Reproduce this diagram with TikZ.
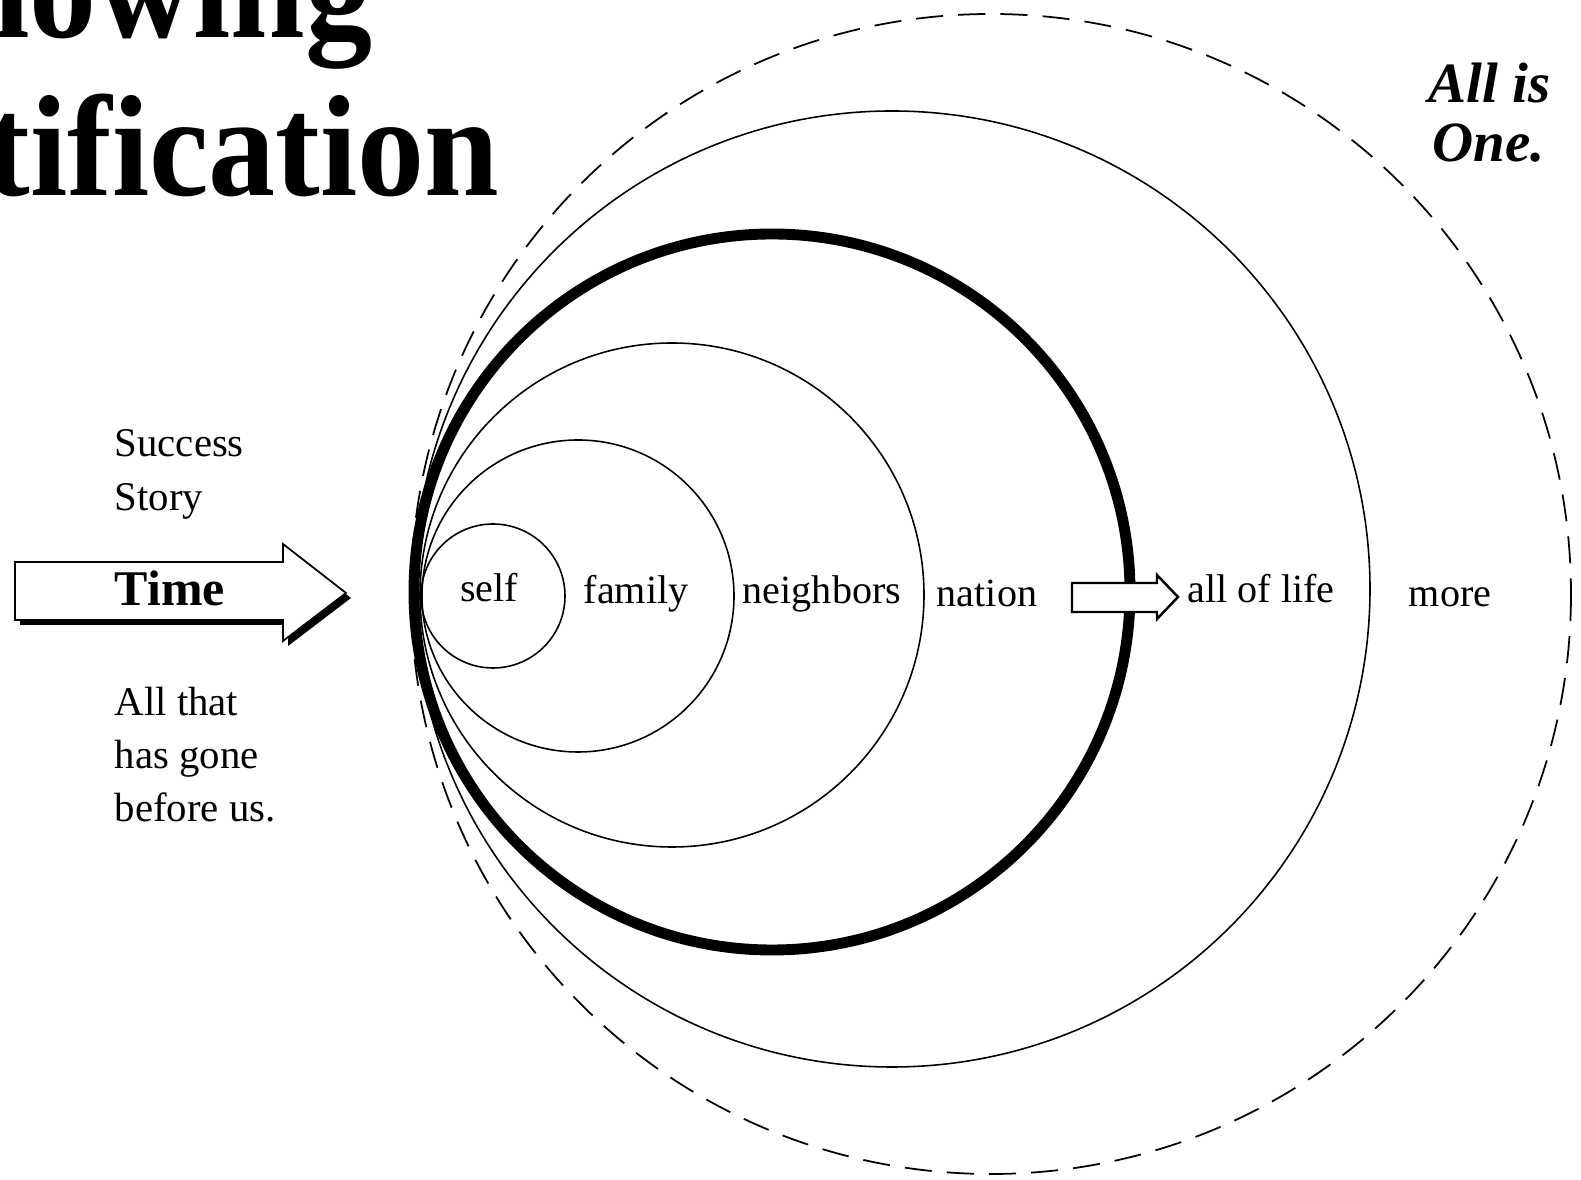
\documentclass[tikz,border=0pt]{standalone}
\usepackage{fontspec}
\setmainfont{Liberation Serif}
\begin{document}
\begin{tikzpicture}[x=0.01cm,y=-0.01cm,
  ring/.style={line width=0.45pt},
  bigring/.style={line width=3.1pt},
  dashring/.style={line width=0.5pt,dash pattern=on 7.7pt off 4.3pt},
  lbl/.style={font=\fontsize{11.4}{14}\selectfont,inner sep=0pt,anchor=base},
  side/.style={font=\fontsize{11.6}{14}\selectfont,inner sep=0pt,anchor=base west},
  title/.style={font=\fontsize{41}{46}\selectfont\bfseries,inner sep=0pt,anchor=base east,xscale=0.93},
  motto/.style={font=\fontsize{16.2}{18}\selectfont\bfseries\itshape,inner sep=0pt,anchor=base west},
  blockarrow/.style={fill=white,draw=black,line width=0.5pt,line join=miter},
  smallarrow/.style={fill=white,draw=black,line width=0.7pt,line join=miter}
]
\useasboundingbox (0,0) rectangle (1581,1180);
\fill[white] (0,0) rectangle (1581,1180);

% title fragments
\node[title] (t1) at (373,38) {nowing};
\node[title] (t2) at (500,196) {tification};

% circles
\draw[dashring] (991,594) circle[radius=580];
\draw[ring] (892,589) circle[radius=478];
\draw[bigring] (772,592) circle[radius=358];
\draw[ring] (672,595) circle[radius=252];
\draw[ring] (578,596) circle[radius=156];
\draw[ring] (493,596) circle[radius=72];

% small arrow
\draw[smallarrow] (1072,583) -- (1157,583) -- (1157,575) -- (1178,597) -- (1157,619) -- (1157,612) -- (1072,612) -- cycle;

% Time arrow with shadow
\fill[black,shift={(5,5)}] (15,562) -- (283,562) -- (283,544) -- (346,593) -- (283,641) -- (283,620) -- (15,620) -- cycle;
\draw[blockarrow] (15,562) -- (283,562) -- (283,544) -- (346,593) -- (283,641) -- (283,620) -- (15,620) -- cycle;
\node[font=\fontsize{14.2}{16}\selectfont\bfseries,inner sep=0pt,anchor=base] (time) at (170,606) {Time};

% ring labels
\node[lbl] (self) at (489,602) {self};
\node[lbl] (family) at (636,604) {family};
\node[lbl] (neighbors) at (822,604) {neighbors};
\node[lbl] (nation) at (987,607) {nation};
\node[lbl] (life) at (1261,603) {all of life};
\node[lbl] (more) at (1450,607) {more};

% side texts
\node[side] (s1) at (114,457) {Success};
\node[side] (s2) at (114,511) {Story};
\node[side] (a1) at (114,716) {All that};
\node[side] (a2) at (114,769) {has gone};
\node[side] (a3) at (114,822) {before us.};

% motto
\node[motto] (m1) at (1428,103) {All is};
\node[motto] (m2) at (1432,162) {One.};
\end{tikzpicture}
\end{document}
